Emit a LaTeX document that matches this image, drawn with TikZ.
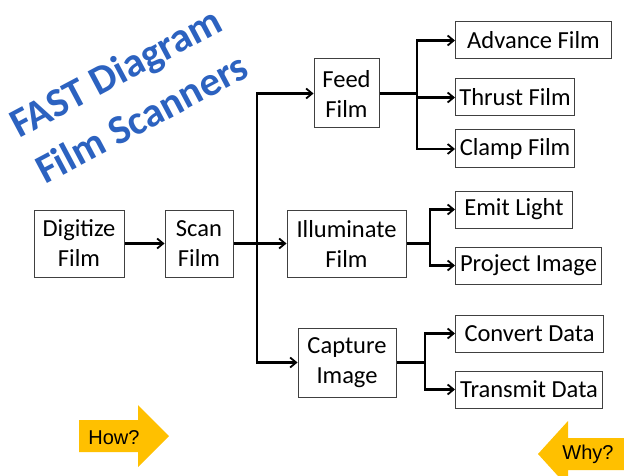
\documentclass[tikz,border=0pt]{standalone}
\usepackage{fontspec}
\setmainfont{Carlito}
\newfontfamily\arialfont{Liberation Sans}
\usetikzlibrary{arrows.meta,calc}
\definecolor{boxgray}{RGB}{64,64,64}
\definecolor{gold}{RGB}{255,192,0}
\definecolor{titleblue}{RGB}{44,98,192}
\tikzset{
  box/.style={draw=boxgray, line width=1pt, fill=white, inner sep=0pt, align=center,
    font=\fontsize{24.5}{30}\selectfont},
  conn/.style={draw=black, line width=2.2pt},
  arr/.style={conn, -{Straight Barb[length=6pt,width=10pt,line width=1.8pt]}},
  titletext/.style={font=\bfseries\fontsize{41}{44}\selectfont, text=titleblue, rotate=28, anchor=base west, inner sep=0pt},
  howwhy/.style={font=\arialfont\fontsize{20}{22}\selectfont, inner sep=0pt}
}
\begin{document}
\begin{tikzpicture}[x=1pt,y=-1pt]
\useasboundingbox (0,0) rectangle (624,476);
\fill[white] (0,0) rectangle (624,476);

% title
\node[titletext] (t1) at (19,139) {FAST Diagram};
\node[titletext] (t2) at (45,185) {Film Scanners};

% boxes
\node[box, minimum width=90pt, minimum height=67pt] (digitize) at (79,243.5) {Digitize\\Film};
\node[box, minimum width=68pt, minimum height=67pt] (scan) at (199,243.5) {Scan\\Film};
\node[box, minimum width=65pt, minimum height=69pt] (feed) at (346.5,93.5) {Feed\\Film};
\node[box, minimum width=119pt, minimum height=67pt] (illum) at (346.5,243.5) {Illuminate\\Film};
\node[box, minimum width=98pt, minimum height=69pt] (capture) at (347,362.5) {Capture\\Image};

\node[box, anchor=west, minimum width=156pt, minimum height=37pt] (advance) at (455,40.5) {Advance Film};
\node[box, anchor=west, minimum width=119pt, minimum height=37pt] (thrust) at (455,97.5) {Thrust Film};
\node[box, anchor=west, minimum width=119pt, minimum height=38pt] (clamp) at (455,149) {Clamp Film};
\node[box, anchor=west, minimum width=117pt, minimum height=37pt] (emit) at (455,209.5) {Emit Light};
\node[box, anchor=west, minimum width=146pt, minimum height=37pt] (project) at (455,265.5) {Project Image};
\node[box, anchor=west, minimum width=148pt, minimum height=37pt] (convert) at (455,333.5) {Convert Data};
\node[box, anchor=west, minimum width=147pt, minimum height=37pt] (transmit) at (455,389.5) {Transmit Data};

% junctions
\coordinate (jmain) at (257,243.5);
\coordinate (jfeed) at (417,93.5);
\coordinate (jillum) at (430,243.5);
\coordinate (jcap) at (425,362.5);

% connectors
\draw[arr] (digitize.east) -- (scan.west);
\draw[arr] (scan.east) -- (illum.west);
\draw[arr] (jmain) |- (feed.west);
\draw[arr] (jmain) |- (capture.west);

\draw[conn] (feed.east) -- (jfeed);
\draw[arr] (jfeed) |- (advance.west);
\draw[arr] (jfeed) |- (thrust.west);
\draw[arr] (jfeed) |- (clamp.west);

\draw[conn] (illum.east) -- (jillum);
\draw[arr] (jillum) |- (emit.west);
\draw[arr] (jillum) |- (project.west);

\draw[conn] (capture.east) -- (jcap);
\draw[arr] (jcap) |- (convert.west);
\draw[arr] (jcap) |- (transmit.west);

% How? arrow
\fill[gold] (79,420) -- (138,420) -- (138,405) -- (169,436) -- (138,467) -- (138,452) -- (79,452) -- cycle;
\node[howwhy] (how) at (114,438) {How?};

% Why? arrow
\begin{scope}
\clip (0,0) rectangle (624,476);
\fill[gold] (624,438) -- (568,438) -- (568,421) -- (538,454) -- (568,487) -- (568,470) -- (624,470) -- cycle;
\end{scope}
\node[howwhy] (why) at (588,454) {Why?};
\end{tikzpicture}
\end{document}
